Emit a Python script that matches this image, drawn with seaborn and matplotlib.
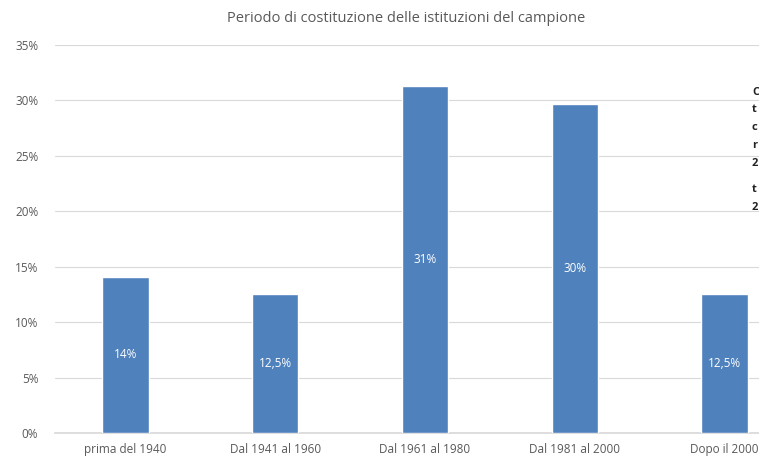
import matplotlib
matplotlib.use("Agg")
import matplotlib.pyplot as plt
import seaborn as sns
import pandas as pd

# data
periodi = ["prima del 1940", "Dal 1941 al 1960", "Dal 1961 al 1980", "Dal 1981 al 2000", "Dopo il 2000"]
quote = [14.1, 12.5, 31.3, 29.7, 12.5]
etichette = ["14%", "12,5%", "31%", "30%", "12,5%"]
yticks = [0, 5, 10, 15, 20, 25, 30, 35]

df = pd.DataFrame({"periodo": periodi, "quota": quote})

sns.set_theme(style="white")
plt.rcParams["font.family"] = ["Open Sans", "DejaVu Sans"]

grey = "#595959"
fig = plt.figure(figsize=(7.59, 4.57), dpi=100)
ax = fig.add_axes([0.0725, 0.0525, 0.975, 0.849])

sns.barplot(data=df, x="periodo", y="quota", color="#4F81BD", saturation=1,
            width=0.31, ax=ax, zorder=3)

# labels centred inside the bars
for i, (v, lab) in enumerate(zip(quote, etichette)):
    ax.text(i, v / 2, lab, ha="center", va="center", color="white", fontsize=8.5)

ax.set_ylim(0, 35)
ax.set_xlim(-0.47, 4.47)
ax.set_yticks(yticks)
ax.set_yticklabels([f"{t}%" for t in yticks], color=grey, fontsize=8.5)
ax.tick_params(axis="y", length=0, pad=12)
ax.tick_params(axis="x", length=0, pad=7, labelsize=8.5, labelcolor=grey)
ax.grid(axis="y", color="#D9D9D9", linewidth=0.8, zorder=0)
ax.set_xlabel("")
ax.set_ylabel("")
for s in ["top", "right", "left"]:
    ax.spines[s].set_visible(False)
ax.spines["bottom"].set_color("#D9D9D9")

fig.text(406 / 759, 1 - 18 / 457, "Periodo di costituzione delle istituzioni del campione",
         ha="center", va="center", color=grey, fontsize=10.5)

# cropped text from a neighbouring box at the right edge
frammenti = [("C", 92), ("t", 110), ("c", 128), ("r", 146), ("2", 163), ("t", 190), ("2", 208)]
for ch, y in frammenti:
    fig.text(752 / 759, 1 - y / 457, ch, ha="left", va="center", color="#222222",
             fontsize=8, fontweight="bold")

fig.savefig("out.png", dpi=100)
